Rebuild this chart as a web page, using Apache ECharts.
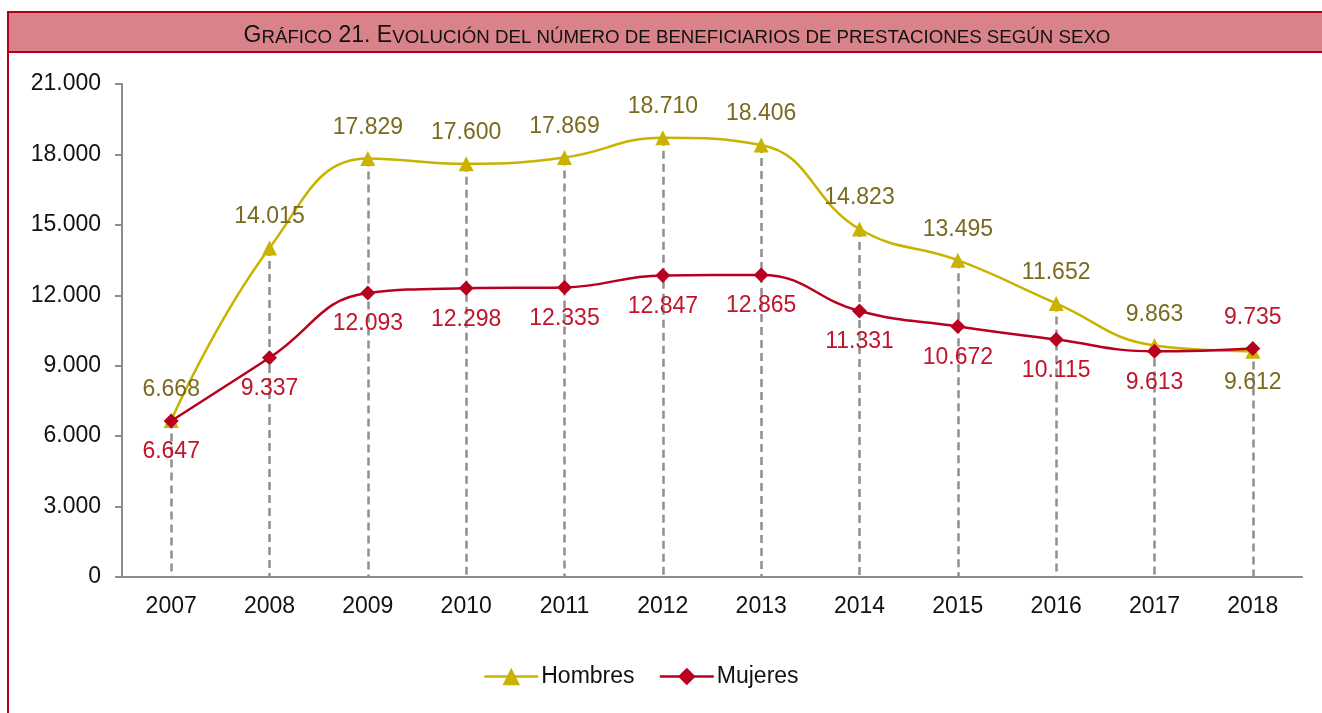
<!DOCTYPE html>
<html>
<head>
<meta charset="utf-8">
<style>
html,body{margin:0;padding:0;background:#fff;}
#main{width:1322px;height:713px;}
</style>
<script src="https://cdn.jsdelivr.net/npm/echarts@6/dist/echarts.min.js"></script>
</head>
<body>
<div id="main"></div>
<script>
var years = ['2007','2008','2009','2010','2011','2012','2013','2014','2015','2016','2017','2018'];
var hombres = [6668,14015,17829,17600,17869,18710,18406,14823,13495,11652,9863,9612];
var mujeres = [6647,9337,12093,12298,12335,12847,12865,11331,10672,10115,9613,9735];
var yTicks = [0,3000,6000,9000,12000,15000,18000,21000];

function fmt(v){
	return String(v).replace(/\B(?=(\d{3})+(?!\d))/g,'.');
}

// etiquetas: la serie mas alta arriba, la otra abajo
var hData = hombres.map(function(v,i){
	return {value:v,label:{position: v>=mujeres[i] ? 'top' : 'bottom'}};
});
var mData = mujeres.map(function(v,i){
	return {value:v,label:{position: v>hombres[i] ? 'top' : 'bottom'}};
});
// lineas de caida desde el punto mas alto hasta 0
var drops = years.map(function(y,i){
	return [{coord:[y,Math.max(hombres[i],mujeres[i])]},{coord:[y,0]}];
});

var myChart = echarts.init(document.getElementById('main'));
var option = {
	animation:false,
	textStyle:{fontFamily:'Liberation Sans, Arial, sans-serif'},
	graphic:[
		{type:'rect',shape:{x:8,y:12,width:1330,height:40},style:{fill:'#D9828A',stroke:'#B4001E',lineWidth:2},z:1},
		{type:'line',shape:{x1:8,y1:12,x2:8,y2:720},style:{stroke:'#B4001E',lineWidth:2},z:1}
	],
	title:{
		text:'{b|G}{s|RÁFICO}{b| 21. E}{s|VOLUCIÓN DEL NÚMERO DE BENEFICIARIOS DE PRESTACIONES SEGÚN SEXO}',
		left:672,
		top:19,
		textAlign:'center',
		textStyle:{
			fontWeight:'normal',
			rich:{
				b:{fontSize:23,color:'#111',fontWeight:'normal',fontFamily:'Liberation Sans',verticalAlign:'bottom'},
				s:{fontSize:18.7,color:'#111',fontWeight:'normal',fontFamily:'Liberation Sans',verticalAlign:'bottom'}
			}
		},
		z:10
	},
	legend:{
		top:660,
		left:478,
		itemWidth:54,
		itemHeight:22,
		itemGap:24,
		lineStyle:{width:2.5},
		textStyle:{fontSize:23,color:'#111',padding:[0,0,0,-2]},
		data:['Hombres','Mujeres']
	},
	grid:{left:122,right:20,top:84,bottom:136},
	xAxis:{
		type:'category',
		data:years,
		boundaryGap:true,
		axisLine:{lineStyle:{color:'#8c8c8c',width:2}},
		axisTick:{show:false},
		axisLabel:{fontSize:23,color:'#111',margin:18}
	},
	yAxis:{
		type:'value',
		min:yTicks[0],
		max:yTicks[yTicks.length-1],
		interval:yTicks[1]-yTicks[0],
		axisLine:{show:true,lineStyle:{color:'#8c8c8c',width:2}},
		axisTick:{show:true,length:7,lineStyle:{color:'#8c8c8c',width:2}},
		splitLine:{show:false},
		axisLabel:{fontSize:23,color:'#111',margin:21,formatter:function(v){return fmt(v);}}
	},
	series:[
		{
			name:'Hombres',
			type:'line',
			smooth:0.45,
			data:hData,
			symbol:'triangle',
			symbolSize:15,
			itemStyle:{color:'#C9B300'},
			lineStyle:{color:'#C9B300',width:2.5},
			label:{show:true,fontSize:23,color:'#7A6A1E',distance:12,formatter:function(p){return fmt(p.value);}},
			markLine:{
				silent:true,
				symbol:['none','none'],
				label:{show:false},
				lineStyle:{color:'#8f8f8f',type:[8,5],width:2.5},
				data:drops,
				z:0
			},
			z:3
		},
		{
			name:'Mujeres',
			type:'line',
			smooth:0.45,
			data:mData,
			symbol:'diamond',
			symbolSize:15,
			itemStyle:{color:'#B8001F'},
			lineStyle:{color:'#B8001F',width:2.5},
			label:{show:true,fontSize:23,color:'#C0142B',distance:12,formatter:function(p){return fmt(p.value);}},
			z:4
		}
	]
};
myChart.setOption(option);
</script>
</body>
</html>
